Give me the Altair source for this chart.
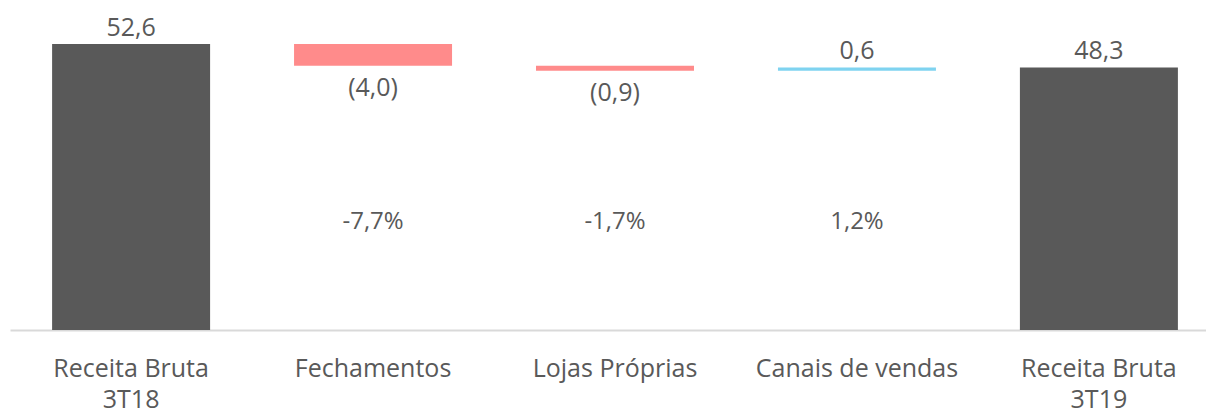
import altair as alt
import pandas as pd

categories = ["Receita Bruta\n3T18", "Fechamentos", "Lojas Próprias", "Canais de vendas", "Receita Bruta\n3T19"]
kinds = ["total", "delta", "delta", "delta", "total"]
values = [52.6, -4.0, -0.9, 0.6, 48.3]
value_labels = ["52,6", "(4,0)", "(0,9)", "0,6", "48,3"]
pct_labels = ["", "-7,7%", "-1,7%", "1,2%", ""]

rows = []
running = 0.0
for cat, kind, v, lab, pct in zip(categories, kinds, values, value_labels, pct_labels):
    if kind == "total":
        start, end = 0.0, v
        running = v
        color = "total"
    else:
        start, end = running, running + v
        running = end
        color = "neg" if v < 0 else "pos"
    rows.append({"cat": cat, "start": start, "end": end, "top": max(start, end),
                 "bottom": min(start, end), "color": color, "label": lab, "pct": pct,
                 "neg": v < 0})
df = pd.DataFrame(rows)

FONT = "Open Sans"
TXT = "#595959"

xscale = alt.Scale(paddingInner=0.347, paddingOuter=0.174, range=[0, 1210])
x = alt.X("cat:N", sort=categories, title=None, scale=xscale,
          axis=alt.Axis(labelExpr="split(datum.label, '\\n')", labelAngle=0,
                        labelFont=FONT, labelFontSize=25, labelColor=TXT,
                        labelPadding=38, labelLineHeight=31, ticks=False,
                        labelLimit=400, labelOverlap=False,
                        domainColor="#D9D9D9", domainWidth=2, labelBaseline="middle"))
yscale = alt.Scale(domain=[0, 55], nice=False)

base = alt.Chart(df)
xs = alt.X("cat:N", sort=categories, scale=xscale)

bars = base.mark_bar().encode(
    x=x,
    y=alt.Y("start:Q", scale=yscale, axis=None),
    y2="end:Q",
    color=alt.Color("color:N", scale=alt.Scale(domain=["total", "neg", "pos"],
                                               range=["#595959", "#FF8B8B", "#7FD3F0"]),
                    legend=None),
)

pos_text = base.transform_filter("!datum.neg").mark_text(
    font=FONT, fontSize=25, color=TXT, baseline="alphabetic", dy=-8
).encode(x=xs, y=alt.Y("top:Q", scale=yscale), text="label:N")

neg_text = base.transform_filter("datum.neg").mark_text(
    font=FONT, fontSize=25, color=TXT, baseline="alphabetic", dy=30
).encode(x=xs, y=alt.Y("bottom:Q", scale=yscale), text="label:N")

pct_text = base.transform_filter("datum.pct != ''").mark_text(
    font=FONT, fontSize=24, color=TXT, baseline="middle"
).encode(x=xs, y=alt.value(191), text="pct:N")

chart = alt.layer(bars, pos_text, neg_text, pct_text).properties(
    width=1196, height=299,
    padding={"left": 10, "top": 31, "right": 0, "bottom": 84},
    autosize=alt.AutoSizeParams(type="none"),
    background="white",
).configure_view(stroke=None)

chart.save("out.html", embed_options={"renderer": "svg", "actions": False})
